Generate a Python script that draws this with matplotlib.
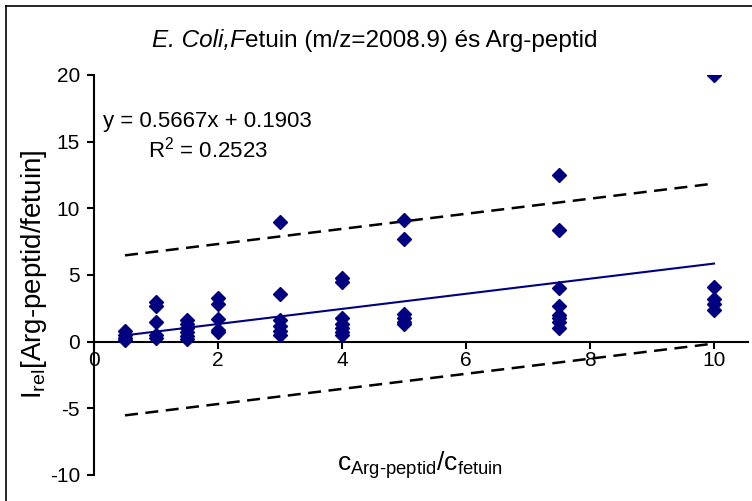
import matplotlib
matplotlib.use('Agg')
import matplotlib.pyplot as plt
from matplotlib.lines import Line2D

plt.rcParams['font.family'] = ['Liberation Sans', 'DejaVu Sans']
plt.rcParams['mathtext.fontset'] = 'custom'
plt.rcParams['mathtext.rm'] = 'Liberation Sans'
plt.rcParams['mathtext.it'] = 'Liberation Sans:italic'
plt.rcParams['axes.unicode_minus'] = False

# mért pontok (koncentráció arány -> relatív intenzitás)
x05 = [0.1, 0.3, 0.5, 0.8]
x1 = [3.0, 2.7, 1.5, 0.5, 0.3]
x15 = [1.6, 1.3, 1.0, 0.7, 0.4, 0.2]
x2 = [3.3, 2.8, 1.7, 0.9, 0.7]
x3 = [9.0, 3.6, 1.6, 1.2, 0.8, 0.5]
x4 = [4.8, 4.5, 1.8, 1.3, 1.0, 0.7, 0.5]
x5 = [9.1, 7.7, 2.1, 1.8, 1.5, 1.3]
x75 = [12.5, 8.4, 4.0, 2.7, 2.0, 1.8, 1.5, 1.0]
x10 = [20.0, 4.1, 3.2, 2.8, 2.4]

conc = [0.5, 1, 1.5, 2, 3, 4, 5, 7.5, 10]
groups = [x05, x1, x15, x2, x3, x4, x5, x75, x10]

slope = 0.5667
intercept = 0.1903
band = 6.0
line_x = [0.5, 10]

fig = plt.figure(figsize=(7.52, 5.01), dpi=100)
ax = fig.add_axes([94 / 752, 1 - 475 / 501, (748 - 94) / 752, 400 / 501])

xs, ys = [], []
for c, g in zip(conc, groups):
    xs += [c] * len(g)
    ys += g
ax.plot(xs, ys, 'D', color='#000080', markersize=7.5, zorder=3)

trend = [slope * v + intercept for v in line_x]
ax.plot(line_x, trend, color='#000080', lw=1.5)
ax.plot(line_x, [t + band for t in trend], color='black', lw=1.8, dashes=(5.2, 3))
ax.plot(line_x, [t - band for t in trend], color='black', lw=1.8, dashes=(5.2, 3))

ax.set_xlim(0, (748 - 94) / 62)
ax.set_ylim(-10, 20)
ax.set_xticks([0, 2, 4, 6, 8, 10])
ax.set_yticks([-10, -5, 0, 5, 10, 15, 20])
ax.spines['left'].set_position(('data', 0))
ax.spines['bottom'].set_position(('data', 0))
ax.spines['top'].set_visible(False)
ax.spines['right'].set_visible(False)
ax.spines['left'].set_linewidth(1.5)
ax.spines['bottom'].set_linewidth(1.5)
ax.tick_params(axis='both', direction='out', length=5, width=1.5, labelsize=15)
ax.tick_params(axis='x', pad=2)
ax.tick_params(axis='y', pad=5)
ax.set_facecolor('none')

ax.text(0.145, 16.1, 'y = 0.5667x + 0.1903', fontsize=16, va='baseline')
ax.text(0.87, 13.8, r'R$^2$ = 0.2523', fontsize=16, va='baseline')

# cím: dőlt és álló rész egymás után
t1 = fig.text(152 / 752, 1 - 52 / 501, 'E. Coli,F', style='italic',
              ha='left', va='bottom', fontsize=17.5)
fig.texts.append(plt.Annotation('etuin (m/z=2008.9) és Arg-peptid', xy=(1, 0),
                                xycoords=t1, va='bottom', ha='left', fontsize=17.5))
fig.texts[-1].set_figure(fig)

fig.text(34 / 752, 1 - 274 / 501, r'I$_{\rm rel}$[Arg-peptid/fetuin]',
         rotation=90, ha='center', va='center', fontsize=20)
fig.text(420 / 752, 1 - 465 / 501, r'c$_{\rm Arg\text{-}peptid}$/c$_{\rm fetuin}$',
         ha='center', va='center', fontsize=19)

# keret
fig.add_artist(Line2D([5.5 / 752, 5.5 / 752], [0, 1 - 5.5 / 501], color='black', lw=1.2))
fig.add_artist(Line2D([5.5 / 752, 1], [1 - 5.5 / 501, 1 - 5.5 / 501], color='black', lw=1.2))

fig.savefig('out.png', dpi=100)
